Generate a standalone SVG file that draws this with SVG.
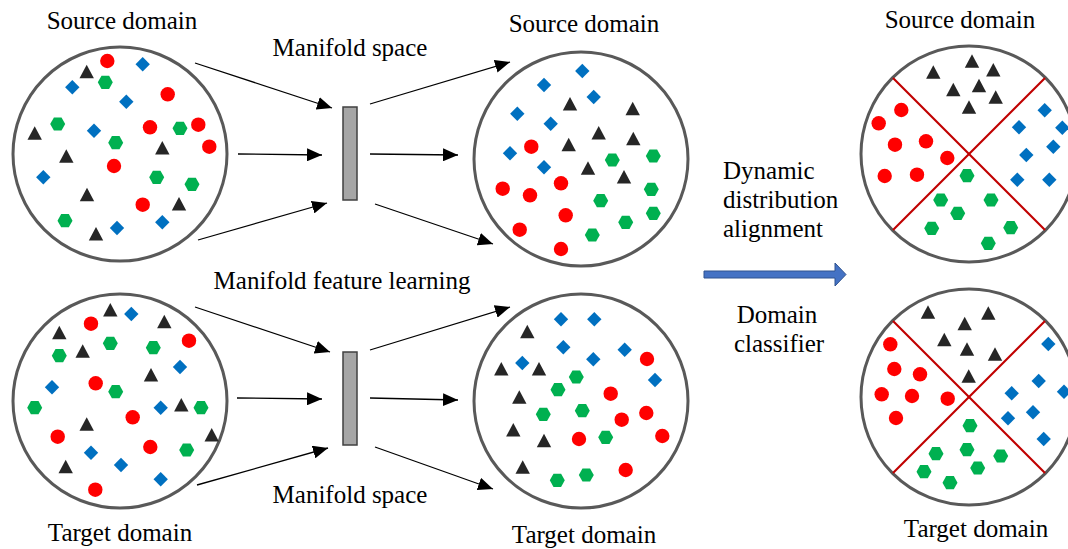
<svg xmlns="http://www.w3.org/2000/svg" xmlns:xlink="http://www.w3.org/1999/xlink" width="1068" height="549" viewBox="0 0 1068 549">
<style>
.lbl{font-family:"Liberation Serif","Times New Roman",serif;font-size:25px;fill:#000}
.ring{fill:#fff;stroke:#595959;stroke-width:3}
.bar{fill:#A6A6A6;stroke:#404040;stroke-width:1.5}
.conn{stroke:#000;stroke-width:1.3;fill:none;marker-end:url(#ah)}
.div{stroke:#C00000;stroke-width:2.2}
</style>
<defs>
<marker id="ah" markerUnits="userSpaceOnUse" markerWidth="16" markerHeight="13" refX="15" refY="6.5" orient="auto"><path d="M0,0 L15,6.5 L0,13 Z" fill="#000"/></marker>
<circle id="r" r="7.2" fill="#FF0000"/>
<polygon id="g" points="-7.5,0 -3.8,-6.6 3.8,-6.6 7.5,0 3.8,6.6 -3.8,6.6" fill="#00B050"/>
<polygon id="b" points="0,-7.2 7.2,0 0,7.2 -7.2,0" fill="#0070C0"/>
<polygon id="t" points="0,-7 7.2,6.5 -7.2,6.5" fill="#262626"/>
</defs>

<g id="labels">
<text class="lbl" x="122" y="29" text-anchor="middle">Source domain</text>
<text class="lbl" x="350" y="56" text-anchor="middle">Manifold space</text>
<text class="lbl" x="584" y="32" text-anchor="middle">Source domain</text>
<text class="lbl" x="960" y="28" text-anchor="middle">Source domain</text>
<text class="lbl" x="342" y="289" text-anchor="middle">Manifold feature learning</text>
<text class="lbl" x="723" y="179">Dynamic</text>
<text class="lbl" x="723" y="208">distribution</text>
<text class="lbl" x="723" y="237">alignment</text>
<text class="lbl" x="777" y="323" text-anchor="middle">Domain</text>
<text class="lbl" x="779" y="352" text-anchor="middle">classifier</text>
<text class="lbl" x="350" y="503" text-anchor="middle">Manifold space</text>
<text class="lbl" x="120" y="541" text-anchor="middle">Target domain</text>
<text class="lbl" x="584" y="543" text-anchor="middle">Target domain</text>
<text class="lbl" x="976" y="537" text-anchor="middle">Target domain</text>
</g>

<g id="connectors">
<line class="conn" x1="195" y1="63" x2="332" y2="108"/>
<line class="conn" x1="238" y1="154" x2="322" y2="155"/>
<line class="conn" x1="198" y1="240" x2="327" y2="203"/>
<line class="conn" x1="370" y1="104" x2="510" y2="62"/>
<line class="conn" x1="370" y1="154" x2="458" y2="155"/>
<line class="conn" x1="375" y1="204" x2="493" y2="244"/>
<line class="conn" x1="195" y1="307" x2="330" y2="352"/>
<line class="conn" x1="237" y1="398" x2="322" y2="399"/>
<line class="conn" x1="197" y1="485" x2="328" y2="448"/>
<line class="conn" x1="370" y1="350" x2="510" y2="307"/>
<line class="conn" x1="370" y1="398" x2="458" y2="400"/>
<line class="conn" x1="375" y1="447" x2="493" y2="489"/>
<polygon points="704,271 835,271 835,263 846,274.5 835,286 835,278 704,278" fill="#4472C4" stroke="#2F528F" stroke-width="1"/>
</g>

<g id="bar-top"><rect class="bar" x="343" y="107" width="14" height="93"/></g>
<g id="bar-bottom"><rect class="bar" x="343" y="352" width="14" height="93"/></g>

<g id="source-raw">
<circle class="ring" cx="120" cy="154" r="107"/>
<use href="#r" x="107.3" y="61"/><use href="#r" x="167.7" y="94.3"/><use href="#r" x="150" y="127.3"/><use href="#r" x="198.3" y="124.7"/><use href="#r" x="209.3" y="146.7"/><use href="#r" x="114" y="166"/><use href="#r" x="142.7" y="204.7"/>
<use href="#g" x="105.3" y="82.3"/><use href="#g" x="57.7" y="124"/><use href="#g" x="180" y="128.3"/><use href="#g" x="115.7" y="142.7"/><use href="#g" x="156.7" y="177.3"/><use href="#g" x="192" y="184.3"/><use href="#g" x="65" y="220.7"/>
<use href="#b" x="142.7" y="64.3"/><use href="#b" x="72.3" y="87.3"/><use href="#b" x="126.3" y="101.7"/><use href="#b" x="94" y="130.7"/><use href="#b" x="43.3" y="177.3"/><use href="#b" x="117" y="228"/><use href="#b" x="162.3" y="222.3"/>
<use href="#t" x="86.7" y="71.7"/><use href="#t" x="34.7" y="133.3"/><use href="#t" x="66.3" y="156.3"/><use href="#t" x="162.3" y="148"/><use href="#t" x="87" y="194.7"/><use href="#t" x="179" y="204"/><use href="#t" x="96" y="234"/>
</g>

<g id="target-raw">
<circle class="ring" cx="120" cy="401" r="107"/>
<use href="#r" x="91" y="323.7"/><use href="#r" x="189" y="340.7"/><use href="#r" x="95.7" y="383.3"/><use href="#r" x="132.7" y="417.3"/><use href="#r" x="57.7" y="436.7"/><use href="#r" x="150.3" y="447"/><use href="#r" x="95.3" y="489.7"/>
<use href="#g" x="110.3" y="343.3"/><use href="#g" x="59.3" y="355.7"/><use href="#g" x="153.3" y="347.7"/><use href="#g" x="115.7" y="391.7"/><use href="#g" x="34.7" y="407.7"/><use href="#g" x="201" y="407.7"/><use href="#g" x="186.7" y="450"/>
<use href="#b" x="131.3" y="314"/><use href="#b" x="180" y="367"/><use href="#b" x="52" y="387.3"/><use href="#b" x="160.7" y="407.7"/><use href="#b" x="91" y="452.7"/><use href="#b" x="121" y="465"/><use href="#b" x="160.7" y="479.3"/>
<use href="#t" x="110.3" y="310"/><use href="#t" x="164.3" y="321.7"/><use href="#t" x="59.3" y="332.7"/><use href="#t" x="82.7" y="351.3"/><use href="#t" x="151" y="375"/><use href="#t" x="181.3" y="405"/><use href="#t" x="86.7" y="424.3"/><use href="#t" x="211.7" y="435"/><use href="#t" x="65.7" y="466.7"/>
</g>

<g id="source-manifold">
<circle class="ring" cx="581" cy="159" r="107"/>
<use href="#b" x="582.3" y="71"/><use href="#b" x="544" y="85"/><use href="#b" x="593.7" y="97"/><use href="#b" x="517.3" y="113.7"/><use href="#b" x="550.7" y="123.7"/><use href="#b" x="510" y="153.3"/><use href="#b" x="544" y="167.3"/>
<use href="#t" x="570" y="104"/><use href="#t" x="632.7" y="108.7"/><use href="#t" x="598.7" y="133"/><use href="#t" x="633.3" y="138.7"/><use href="#t" x="568.7" y="144.7"/><use href="#t" x="588" y="168.3"/><use href="#t" x="624" y="177"/>
<use href="#r" x="531.3" y="146.7"/><use href="#r" x="502.7" y="188.7"/><use href="#r" x="561" y="183.3"/><use href="#r" x="530" y="195.3"/><use href="#r" x="565.7" y="215.3"/><use href="#r" x="519.7" y="229.7"/><use href="#r" x="561" y="249"/>
<use href="#g" x="612.3" y="160"/><use href="#g" x="653.3" y="156"/><use href="#g" x="651.3" y="189.3"/><use href="#g" x="600.7" y="200.7"/><use href="#g" x="653.3" y="213.3"/><use href="#g" x="625.7" y="222.3"/><use href="#g" x="592.3" y="235"/>
</g>

<g id="target-manifold">
<circle class="ring" cx="581" cy="401" r="107"/>
<use href="#b" x="561" y="319.3"/><use href="#b" x="594.3" y="319.3"/><use href="#b" x="563.3" y="347.3"/><use href="#b" x="624.7" y="349.7"/><use href="#b" x="593.3" y="359.3"/><use href="#b" x="522.3" y="363"/><use href="#b" x="655" y="380"/>
<use href="#t" x="527.3" y="331.7"/><use href="#t" x="501.3" y="369"/><use href="#t" x="539" y="369"/><use href="#t" x="519.3" y="397.3"/><use href="#t" x="513.3" y="430"/><use href="#t" x="544" y="440.7"/><use href="#t" x="522.7" y="467.3"/>
<use href="#r" x="647" y="359"/><use href="#r" x="610.7" y="393.7"/><use href="#r" x="646.3" y="413"/><use href="#r" x="621.7" y="419.7"/><use href="#r" x="662.3" y="436"/><use href="#r" x="579" y="439"/><use href="#r" x="625.7" y="470"/>
<use href="#g" x="576.3" y="377"/><use href="#g" x="558" y="389.7"/><use href="#g" x="582.3" y="410.7"/><use href="#g" x="543.3" y="414.3"/><use href="#g" x="605.7" y="437.3"/><use href="#g" x="586.3" y="475"/><use href="#g" x="557.3" y="480.3"/>
</g>

<g id="source-aligned">
<circle class="ring" cx="969" cy="154" r="108"/>
<line class="div" x1="893" y1="78" x2="1045" y2="230"/>
<line class="div" x1="1045" y1="78" x2="893" y2="230"/>
<use href="#t" x="933.3" y="72.3"/><use href="#t" x="972" y="61.3"/><use href="#t" x="993.3" y="70"/><use href="#t" x="953.3" y="89.7"/><use href="#t" x="979" y="85.7"/><use href="#t" x="995.7" y="97.3"/><use href="#t" x="969" y="107.3"/>
<use href="#r" x="901.3" y="110"/><use href="#r" x="878.7" y="123.3"/><use href="#r" x="895" y="144.7"/><use href="#r" x="926" y="141.3"/><use href="#r" x="947.3" y="158"/><use href="#r" x="884.7" y="176"/><use href="#r" x="917" y="174.7"/>
<use href="#b" x="1044.7" y="110.3"/><use href="#b" x="1019" y="127.3"/><use href="#b" x="1062.3" y="127.7"/><use href="#b" x="1053.3" y="146.7"/><use href="#b" x="1026.3" y="155"/><use href="#b" x="1017.3" y="179.7"/><use href="#b" x="1049.3" y="179.7"/>
<use href="#g" x="967" y="175.7"/><use href="#g" x="940.7" y="200"/><use href="#g" x="991" y="200"/><use href="#g" x="957.7" y="213.3"/><use href="#g" x="931.7" y="228.3"/><use href="#g" x="1010.7" y="227.7"/><use href="#g" x="988.3" y="243.3"/>
</g>

<g id="target-aligned">
<circle class="ring" cx="969" cy="397" r="108"/>
<line class="div" x1="893" y1="321" x2="1045" y2="473"/>
<line class="div" x1="1045" y1="321" x2="893" y2="473"/>
<use href="#t" x="928" y="312.3"/><use href="#t" x="988.3" y="313.3"/><use href="#t" x="964.7" y="323.7"/><use href="#t" x="944.3" y="339.7"/><use href="#t" x="967" y="349.3"/><use href="#t" x="995" y="354.3"/><use href="#t" x="968.7" y="376.3"/>
<use href="#r" x="890.3" y="344.3"/><use href="#r" x="894.3" y="369"/><use href="#r" x="920" y="374.3"/><use href="#r" x="881.7" y="394.3"/><use href="#r" x="912" y="396"/><use href="#r" x="947.7" y="398.7"/><use href="#r" x="896" y="418"/>
<use href="#b" x="1048.3" y="344"/><use href="#b" x="1038.7" y="381"/><use href="#b" x="1011.7" y="393.3"/><use href="#b" x="1064" y="391.7"/><use href="#b" x="1033" y="412.3"/><use href="#b" x="1008" y="418.3"/><use href="#b" x="1043.7" y="439"/>
<use href="#g" x="970" y="425.7"/><use href="#g" x="936" y="453.7"/><use href="#g" x="967" y="449.7"/><use href="#g" x="1000.7" y="456"/><use href="#g" x="977.7" y="468"/><use href="#g" x="924" y="471.7"/><use href="#g" x="950" y="482.7"/>
</g>
</svg>
